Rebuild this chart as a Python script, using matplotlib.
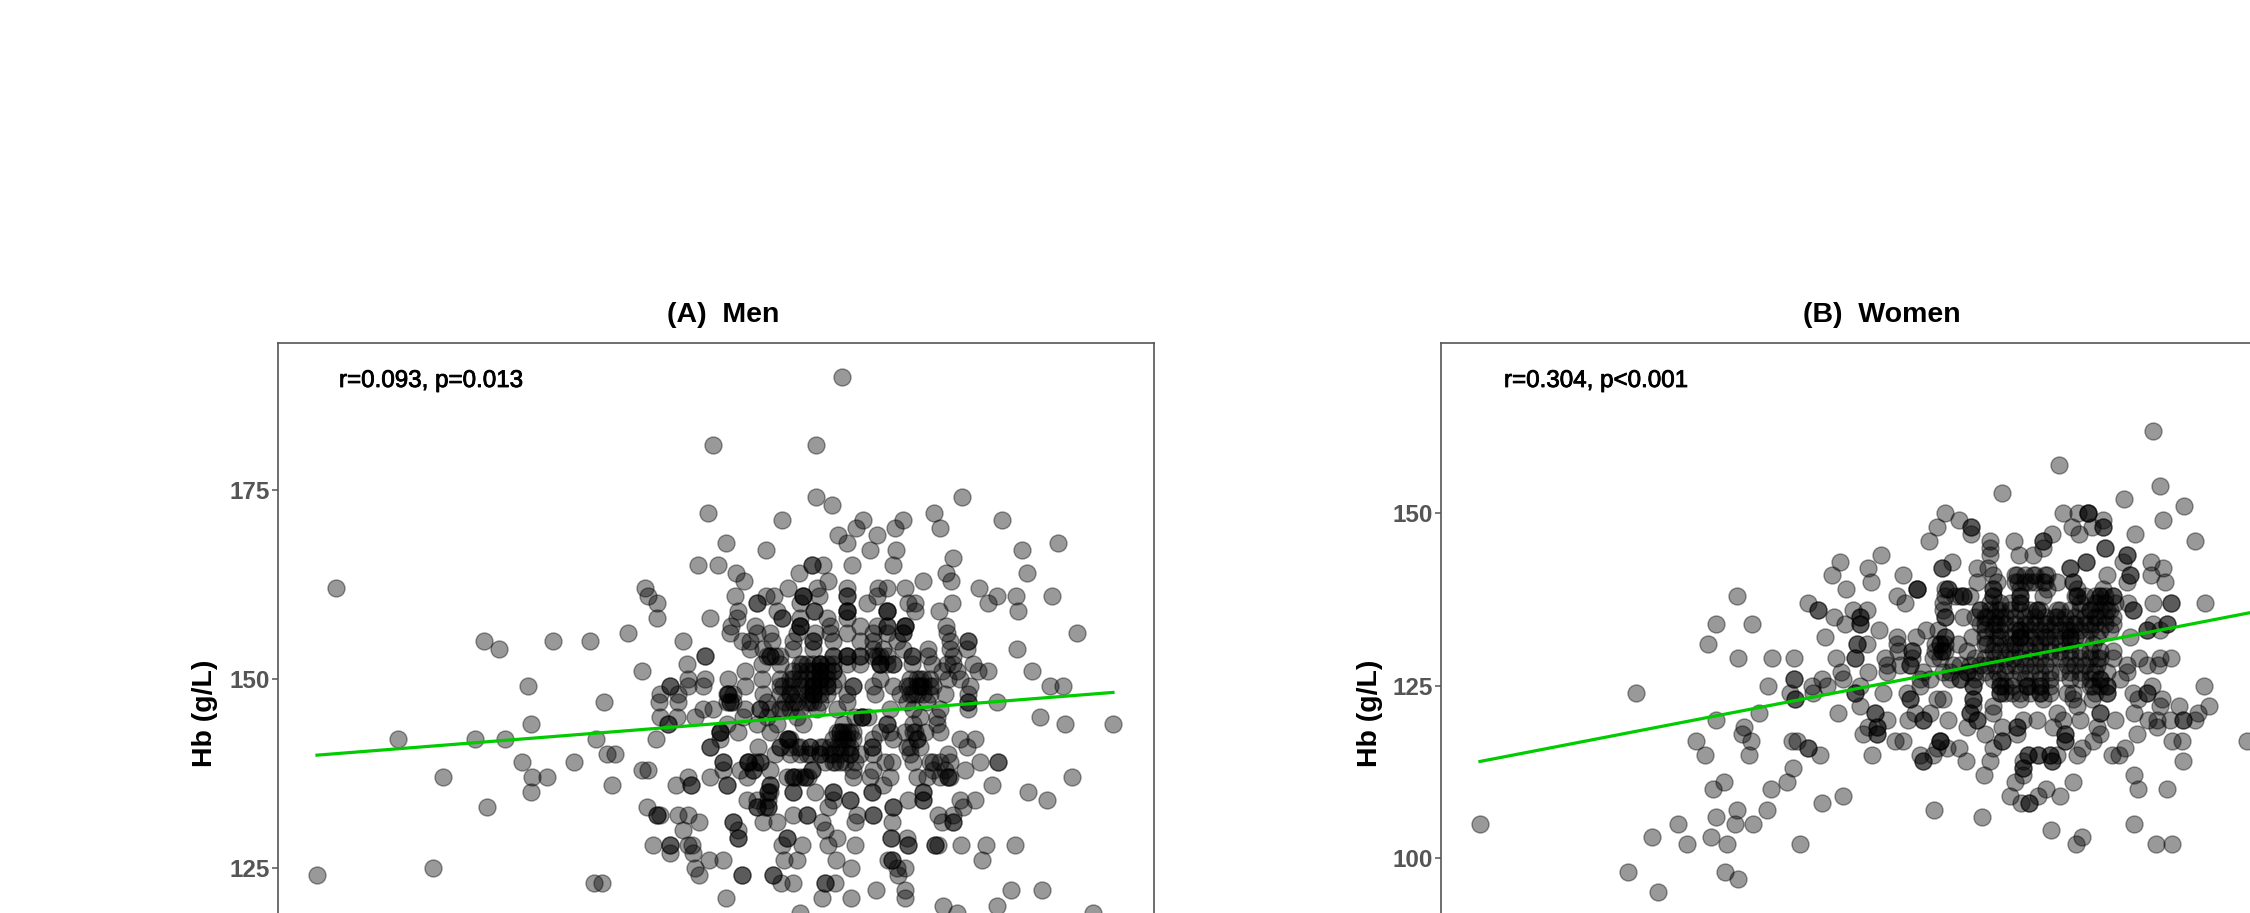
import matplotlib
matplotlib.use("Agg")
import matplotlib.pyplot as plt
import matplotlib.patheffects as pe

plt.rcParams['font.family'] = ['Liberation Sans', 'DejaVu Sans']

W, H = 2250, 913

men_hb = list(range(162, 118, -1))
men_top_hb = [190, 181, 174, 173, 172, 171, 170, 169, 168, 167, 166, 165, 164, 163]
men_top_x = [[842], [713, 816], [816, 962], [832], [708, 934], [782, 863, 903, 1002], [856, 895, 940], [838, 877],
             [726, 847, 1058], [766, 870, 896, 1022], [953], [698, 718, 812, 812, 823, 852, 893],
             [736, 799, 946, 1027], [744, 828, 923, 951]]
men_x = [
 [336, 645, 788, 817, 847, 878, 887, 905, 979],
 [648, 735, 766, 774, 803, 803, 803, 819, 847, 847, 877, 997, 1016, 1052],
 [657, 757, 757, 800, 867, 908, 915, 952, 988],
 [738, 777, 814, 814, 847, 847, 847, 887, 887, 887, 915, 939, 1018],
 [657, 710, 737, 782, 782, 827, 847, 800],
 [731, 755, 800, 800, 800, 830, 860, 877, 887, 887, 905, 905, 905, 946],
 [628, 1077, 730, 757, 770, 797, 815, 830, 847, 873, 887, 903, 903, 947],
 [484, 553, 590, 683, 742, 750, 772, 793, 813, 813, 833, 860, 873, 897, 950, 968, 968],
 [499, 1017, 750, 763, 793, 813, 928, 950, 967, 873, 883, 903],
 [705, 705, 770, 770, 780, 833, 847, 847, 860, 877, 912, 912, 928, 953],
 [687, 762, 780, 802, 820, 820, 833, 847, 860, 880, 880, 893, 912, 932, 947, 953, 973],
 [642, 745, 793, 820, 820, 833, 1032, 978, 988, 942, 957],
 [688, 705, 728, 762, 793, 820, 820, 837, 880, 920, 948, 960],
 [528, 670, 670, 688, 703, 745, 783, 813, 813, 827, 853, 853, 873, 920, 920, 933, 970, 1050, 1063],
 [660, 678, 728, 728, 763, 790, 813, 813, 847, 875, 913, 945, 968],
 [604, 659, 678, 730, 730, 767, 793, 810, 847, 907, 927, 997, 968, 968],
 [703, 713, 745, 760, 783, 817, 837, 890, 913, 940, 968],
 [660, 677, 695, 743, 767, 797, 862, 862, 920, 937, 1040],
 [531, 668, 668, 727, 757, 777, 803, 843, 887, 887, 913, 937, 1065, 1113],
 [720, 720, 738, 770, 840, 840, 853, 913, 940],
 [398, 475, 505, 596, 656, 720, 788, 788, 843, 873, 893, 917, 917, 960, 975],
 [710, 710, 758, 780, 797, 810, 823, 837, 847, 872, 872, 907, 967],
 [607, 615, 775, 807, 820, 833, 850, 873, 910, 948],
 [522, 574, 723, 723, 748, 748, 760, 833, 840, 892, 885, 913, 933, 980, 998, 998],
 [642, 648, 723, 740, 753, 753, 770, 812, 812, 853, 873, 933, 945, 965],
 [443, 532, 547, 688, 710, 747, 793, 793, 805, 805, 853, 870, 890, 917, 927, 948, 948, 1072],
 [612, 676, 691, 691, 727, 727, 770, 770, 883, 992],
 [531, 768, 768, 793, 793, 815, 833, 833, 872, 872, 923, 923, 1028],
 [747, 757, 768, 833, 850, 850, 908, 923, 923, 960, 975, 1047],
 [487, 647, 757, 757, 768, 768, 828, 893, 893, 963],
 [657, 657, 660, 678, 688, 793, 807, 807, 857, 873, 873, 938, 953],
 [699, 733, 733, 763, 777, 822, 855, 892, 942, 953, 953],
 [683, 738, 825],
 [738, 738, 787, 787, 837, 891, 891, 907],
 [653, 670, 670, 688, 692, 782, 802, 828, 855, 908, 908, 935, 935, 938, 961, 986, 1015],
 [670, 693],
 [709, 723, 784, 797, 836, 888, 892, 892, 982],
 [433, 695, 851, 897, 905],
 [317, 699, 742, 742, 773, 773, 898],
 [594, 602, 781, 793, 825, 825, 835],
 [876, 905, 1011, 1042],
 [726, 822, 851, 905],
 [943, 997],
 [800, 957, 1093],
]

# further overlapping points in the dark core of panel A
men_core_hb = [153, 152, 151, 150, 149, 148, 147, 146, 145, 143, 142, 141, 140, 139, 137, 135, 133]
men_core_x = [
 [767, 775, 833, 847, 860, 873, 880, 887],
 [800, 807, 813, 820, 827, 880, 887, 893],
 [800, 807, 813, 820, 827, 833],
 [780, 790, 800, 807, 813, 820, 827, 910, 917, 923, 930],
 [780, 790, 800, 807, 813, 820, 827, 833, 893, 907, 910, 917, 923, 930],
 [727, 733, 780, 790, 797, 807, 813, 820, 827, 900, 910, 917, 923, 930],
 [727, 733, 785, 797, 807, 813, 820],
 [760, 770, 780, 790, 800],
 [855, 862, 868],
 [720, 837, 843, 847, 850, 880, 890, 905, 915, 925],
 [787, 790, 833, 840, 847, 853],
 [780, 790, 800, 810, 820, 830, 840, 850, 910, 920],
 [790, 800, 810, 820, 830, 840, 850, 860],
 [748, 755, 760, 825, 835, 845, 855, 930, 940, 950],
 [787, 795, 800, 808, 940, 950],
 [770],
 [765],
]

women_hb = [162, 157, 154, 153, 152, 151] + list(range(150, 101, -1)) + [98, 97, 95]
women_x = [
 [2153], [2059], [2160], [2002], [2124], [2184],
 [1945, 2063, 2078, 2088, 2088, 2088],
 [1959, 2163, 2103],
 [1937, 1971, 1971, 2072, 2092, 2103, 2103],
 [1971, 2052, 2079, 2135],
 [1929, 1990, 2014, 2195, 2043, 2043],
 [2043, 1990, 2105, 2105],
 [1881, 1990, 2019, 2033, 2127, 2127],
 [1840, 1952, 2086, 2086, 2123, 2151],
 [1868, 1942, 1942, 1977, 1988, 2070, 2070, 2163],
 [1832, 1903, 1993, 2017, 2033, 2047, 2107, 2130, 2130, 2151],
 [1871, 1977, 1997, 2018, 2030, 2043, 2057, 2073, 2073, 2127, 2165],
 [1846, 1917, 1917, 1917, 1945, 1948, 1948, 1993, 1993, 2020, 2047, 2077, 2103],
 [1737, 1897, 1963, 1963, 1993, 1993, 2020, 2020, 2043, 2077, 2077, 2100, 2100, 2113, 2113],
 [1808, 1905, 1943, 2020, 2080, 2097, 2128, 2153, 2171, 2171, 2205],
 [1818, 1818, 1853, 1867, 1943, 1980, 1997, 2037, 2037, 2057, 2090, 2107, 2133, 2133],
 [1834, 1860, 1860, 1945, 1945, 1963, 1987, 2000, 2057, 2097, 2113],
 [1716, 1752, 1845, 1860, 1860, 1980, 1997, 2030, 2047, 2073, 2090, 2113, 2153, 2167, 2167],
 [1879, 1926, 1938, 1993, 2020, 2020, 2067, 2147, 2147, 2160],
 [1825, 1897, 1916, 1945, 1945, 1972, 1997, 2020, 2020, 2070, 2070, 2047, 2097, 2130],
 [1708, 1857, 1857, 1867, 1897, 1958, 1940, 1940, 1987, 2013, 2040, 2093],
 [1898, 1912, 1912, 1942, 1942, 1967, 1993, 2040, 2113],
 [1738, 1772, 1794, 1836, 1855, 1855, 1885, 1912, 2139, 2160, 2171, 1933, 1940, 2097, 2113, 2013],
 [1887, 1900, 1910, 1910, 1953, 1987, 2007, 2067, 2147, 2158, 2127, 2097],
 [1841, 1868, 1887, 1923, 1943, 1967, 1967, 1997, 2020, 2040, 2060, 2080, 2107, 2127],
 [1794, 1794, 1822, 1843, 1920, 1930, 1960, 1960, 1993, 2013, 2040, 2070, 2100, 2120],
 [1768, 1812, 1860, 1827, 1920, 1973, 1973, 2000, 2000, 2027, 2027, 2040, 2093, 2107, 2107, 2204, 2152],
 [1636, 1790, 1813, 1855, 1855, 1883, 1907, 2000, 2000, 2020, 2040, 2040, 2067, 2073, 2107, 2107, 2133, 2147, 2147],
 [1795, 1795, 1910, 1910, 1937, 1943, 1973, 1973, 2020, 2043, 2073, 2092, 2138, 2162],
 [1860, 1973, 1993, 2077, 2160, 2179, 2209],
 [1759, 1838, 1875, 1875, 1915, 1930, 1970, 1970, 1993, 2057, 2100, 2100, 2134, 2198],
 [1716, 1887, 1908, 1923, 1923, 1948, 1977, 1977, 2023, 2037, 2063, 2080, 2115, 2148, 2157, 2183, 2183, 2170, 2195],
 [1744, 1868, 1877, 1877, 1967, 2002, 2017, 2017, 2053, 2097, 2157],
 [1742, 1863, 1877, 1877, 1985, 2017, 2065, 2065, 2100, 2137],
 [1751, 1696, 1792, 1797, 1895, 1903, 1940, 1940, 1940, 2002, 2002, 2065, 2065, 2093, 2172, 2182, 2247],
 [1808, 1808, 1959, 1993, 2082, 2125, 1937, 1947],
 [1705, 1749, 1820, 1872, 1920, 1933, 2028, 2028, 2038, 2038, 2050, 2050, 2057, 2077, 2112, 2119],
 [1923, 1923, 1966, 1990, 2023, 2052, 2052, 2183],
 [1793, 2023, 2023],
 [1984, 2023, 2134],
 [1724, 1787, 2015, 2073],
 [1713, 1771, 2046, 2138, 2167],
 [1843, 2010, 2038, 2060],
 [1822, 2021, 2029, 2029],
 [1767, 1737, 1934],
 [1716, 1982],
 [1735, 1753, 1480, 1678, 2134],
 [2051],
 [1652, 1711, 2082],
 [1687, 1727, 1800, 2076, 2156, 2172],
 [1628, 1725], [1738], [1658],
]

# further overlapping points in the dark core of panel B
women_core_hb = [141, 140, 138, 137, 136, 135, 134, 133, 132, 131, 130, 129, 128, 127, 126, 125, 124]
women_core_x = [
 [2015, 2025, 2035, 2045],
 [2015, 2025, 2035, 2045],
 [1945, 1955, 1960, 1970, 2075, 2085, 2095, 2105],
 [1990, 2000, 2010, 2020, 2095, 2105, 2115],
 [1980, 1990, 2000, 2010, 2020, 2030, 2040, 2060, 2070, 2080, 2090, 2100, 2110],
 [1975, 1985, 1995, 2005, 2015, 2025, 2035, 2045, 2055, 2065, 2075, 2085, 2095, 2105],
 [1985, 1995, 2005, 2015, 2025, 2035, 2045, 2055, 2065, 2075, 2085, 2095, 2105],
 [1985, 2000, 2015, 2030, 2040, 2050, 2060, 2070, 2080, 2090, 2100, 2110],
 [1985, 2000, 2010, 2020, 2030, 2035, 2045, 2055, 2065, 2075, 2085],
 [1935, 1945, 1985, 1995, 2005, 2015, 2025, 2035, 2050, 2060, 2070],
 [1935, 1945, 2000, 2010, 2020, 2030, 2050, 2060, 2070, 2080, 2090, 2100],
 [1975, 1985, 1995, 2005, 2020, 2030, 2040, 2050, 2060, 2070, 2080, 2090, 2100],
 [1960, 1970, 1980, 1995, 2015, 2025, 2035, 2045, 2075, 2085],
 [1950, 1975, 1985, 2005, 2030, 2050, 2070, 2090, 2095],
 [1950, 1975, 2000, 2025, 2050, 2080, 2090, 2100],
 [2005, 2012, 2030, 2040, 2050, 2090, 2100],
 [2005, 2012, 2030, 2050, 2095],
]

men_line_x = [317, 1113]
men_line_hb = [139.9, 148.2]
women_line_x = [1480, 2290]
women_line_hb = [114.0, 136.7]

titles = ["(A)  Men", "(B)  Women"]
notes = ["r=0.093, p=0.013", "r=0.304, p<0.001"]
men_ticks = [125, 150, 175]
women_ticks = [100, 125, 150]


def flatten(hb, rows):
    xs, ys = [], []
    for h, r in zip(hb, rows):
        for v in r:
            xs.append(v)
            ys.append(h)
    return xs, ys


def panel(fig, left, right, top, bottom, xlim, ylim, xs, ys, lx, ly, ticks, title, note, tx, nx, ylab_x):
    ax = fig.add_axes([left / W, (H - bottom) / H, (right - left) / W, (bottom - top) / H])
    ax.set_xlim(*xlim)
    ax.set_ylim(*ylim)
    ax.scatter(xs, ys, s=150, facecolor=(0, 0, 0, 0.40), edgecolor=(0, 0, 0, 0.40), linewidth=1.0, zorder=2)
    ax.plot(lx, ly, color="#00CC00", lw=2.3, zorder=3)
    ax.set_xticks([])
    ax.set_yticks(ticks)
    ax.set_yticklabels([str(t) for t in ticks], fontsize=17.5, fontweight="bold", color="#555555")
    ax.tick_params(axis="y", length=4.5, width=1.1, color="#555555", pad=1.5)
    for s in ax.spines.values():
        s.set_color("#555555")
        s.set_linewidth(1.2)
    fig.text(tx / W, (H - 315) / H, title, ha="center", va="center", fontsize=20.5, fontweight="bold", color="black")
    t = fig.text(nx / W, (H - 381) / H, note, ha="left", va="center", fontsize=17.4, color="black")
    t.set_path_effects([pe.withStroke(linewidth=0.6, foreground="black")])
    fig.text(ylab_x / W, (H - 713) / H, "Hb (g/L)", rotation=90, ha="center", va="center",
             fontsize=20.5, fontweight="bold", color="black")


fig = plt.figure(figsize=(W / 100, H / 100), dpi=100, facecolor="white")

mx, my = flatten(men_top_hb + men_hb + men_core_hb, men_top_x + men_x + men_core_x)
wx, wy = flatten(women_hb + women_core_hb, women_x + women_core_x)

panel(fig, 278, 1154, 343, 1000, (278, 1154), (107.5, 194.44), mx, my, men_line_x, men_line_hb,
      men_ticks, titles[0], notes[0], 723, 339, 205)
panel(fig, 1441, 2317, 343, 1000, (1441, 2317), (79.4, 174.7), wx, wy, women_line_x, women_line_hb,
      women_ticks, titles[1], notes[1], 1882, 1504, 1370)

fig.savefig("out.png", dpi=100, facecolor="white")
